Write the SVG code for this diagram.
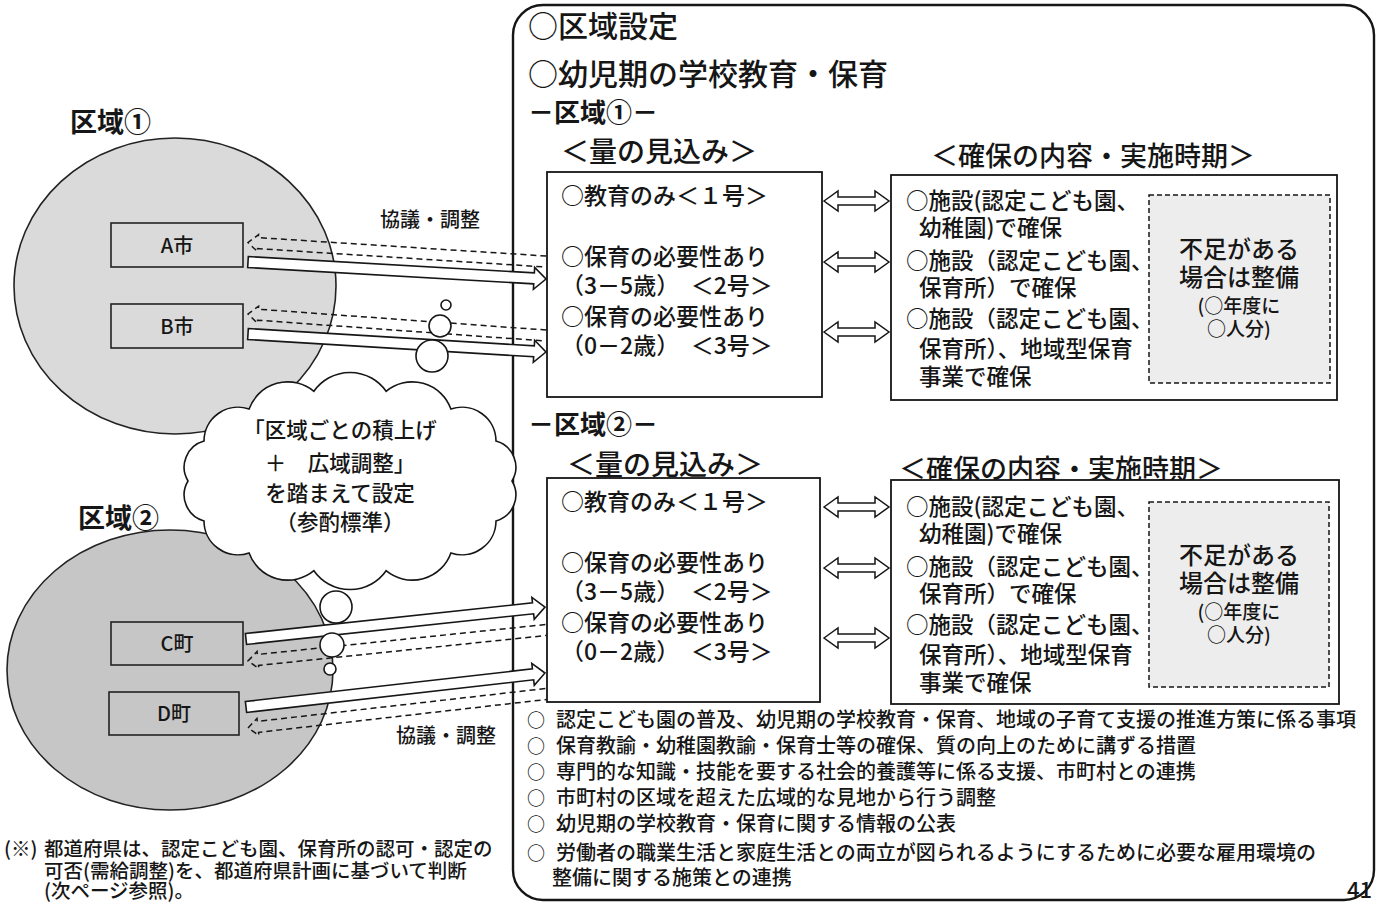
<svg xmlns="http://www.w3.org/2000/svg" width="1386" height="903" viewBox="0 0 1386 903">
<style>
text { font-family: "Noto Sans CJK JP", "Noto Sans", sans-serif; fill: #161616; font-weight: 500; }
.h30 { font-size: 30px; }
.h28 { font-size: 28px; }
.h27 { font-size: 27px; }
.h26b { font-size: 26px; font-weight: bold; }
.lbl { font-size: 27px; font-weight: bold; }
.b23 { font-size: 23px; }
.r22 { font-size: 22.5px; }
.n24 { font-size: 24px; text-anchor: middle; }
.n19 { font-size: 19px; text-anchor: middle; }
.city { font-size: 20px; text-anchor: middle; }
.kyo { font-size: 20px; }
.cl { font-size: 21.5px; text-anchor: middle; }
.li { font-size: 20px; }
.bu { font-size: 18px; }
.fn { font-size: 19.5px; }
.zone1 { fill: #dadada; stroke: #222; stroke-width: 1.6; }
.zone2 { fill: #c6c6c6; stroke: #222; stroke-width: 1.6; }
.cbox { fill: none; stroke: #222; stroke-width: 1.6; }
.box { fill: #fff; stroke: #161616; stroke-width: 1.8; }
.need { fill: #ededed; stroke: #161616; stroke-width: 1.5; stroke-dasharray: 5 3; }
.frame { fill: #fff; stroke: #161616; stroke-width: 2.4; }
.solid { fill: #fff; stroke: #161616; stroke-width: 1.6; stroke-linejoin: miter; }
.dash { fill: none; stroke: #161616; stroke-width: 1.5; stroke-dasharray: 6 4; }
.dbl { fill: #fff; stroke: #161616; stroke-width: 1.5; }
.bub { fill: #fff; stroke: #161616; stroke-width: 1.6; }
</style>
<defs>
<path id="dblarrow" class="dbl" d="M0,0 L14,-10 L14,-4 L51,-4 L51,-10 L65,0 L51,10 L51,4 L14,4 L14,10 Z"/>
</defs>

<rect x="0" y="0" width="1386" height="903" fill="#fff"/>

<!-- zones -->
<g id="zone1">
  <ellipse class="zone1" cx="175" cy="286" rx="161" ry="148"/>
  <text class="lbl" x="70" y="132">区域①</text>
</g>
<g id="zone2">
  <ellipse class="zone2" cx="170" cy="670" rx="163" ry="140"/>
  <text class="lbl" x="78" y="528">区域②</text>
</g>

<g id="cityA"><rect class="cbox" x="111" y="223" width="132" height="44"/><text class="city" x="177" y="253">A市</text></g>
<g id="cityB"><rect class="cbox" x="111" y="304" width="132" height="44"/><text class="city" x="177" y="334">B市</text></g>
<g id="townC"><rect class="cbox" x="111" y="622" width="132" height="43"/><text class="city" x="177" y="651">C町</text></g>
<g id="townD"><rect class="cbox" x="109" y="692" width="130" height="43"/><text class="city" x="174" y="721">D町</text></g>

<!-- main frame -->
<g id="frame">
  <rect class="frame" x="513" y="5" width="861" height="895" rx="30" ry="30"/>
  <text class="h30" x="528" y="37">○区域設定</text>
  <text class="h30" x="528" y="85">○幼児期の学校教育・保育</text>
</g>

<!-- region 1 -->
<g id="region1">
  <text class="h26b" x="528" y="122">－区域①－</text>
  <text class="h28" x="561" y="162">＜量の見込み＞</text>
  <text class="h27" x="931" y="166">＜確保の内容・実施時期＞</text>
</g>
<g id="demand1">
  <rect class="box" x="547" y="172" width="275" height="225"/>
  <text class="b23" x="561" y="204">○教育のみ＜１号＞</text>
  <text class="b23" x="561" y="265">○保育の必要性あり</text>
  <text class="b23" x="561" y="294">（3－5歳）　＜2号＞</text>
  <text class="b23" x="561" y="325">○保育の必要性あり</text>
  <text class="b23" x="561" y="354">（0－2歳）　＜3号＞</text>
</g>
<g id="supply1">
  <rect class="box" x="891" y="175" width="446" height="225"/>
  <text class="r22" x="906" y="209">○施設(認定こども園、</text>
  <text class="r22" x="919" y="236">幼稚園)で確保</text>
  <text class="r22" x="906" y="269">○施設（認定こども園、</text>
  <text class="r22" x="919" y="296">保育所）で確保</text>
  <text class="r22" x="906" y="327">○施設（認定こども園、</text>
  <text class="r22" x="919" y="357">保育所）、地域型保育</text>
  <text class="r22" x="919" y="385">事業で確保</text>
</g>
<g id="shortage1">
  <rect class="need" x="1149" y="195" width="181" height="188"/>
  <text class="n24" x="1239" y="258">不足がある</text>
  <text class="n24" x="1239" y="286">場合は整備</text>
  <text class="n19" x="1239" y="313">(○年度に</text>
  <text class="n19" x="1239" y="336">○人分)</text>
</g>

<!-- region 2 -->
<g id="region2">
  <text class="h26b" x="528" y="434">－区域②－</text>
  <text class="h28" x="567" y="475">＜量の見込み＞</text>
  <text class="h27" x="899" y="479">＜確保の内容・実施時期＞</text>
</g>
<g id="demand2">
  <rect class="box" x="547" y="478" width="273" height="224"/>
  <text class="b23" x="561" y="510">○教育のみ＜１号＞</text>
  <text class="b23" x="561" y="571">○保育の必要性あり</text>
  <text class="b23" x="561" y="600">（3－5歳）　＜2号＞</text>
  <text class="b23" x="561" y="631">○保育の必要性あり</text>
  <text class="b23" x="561" y="660">（0－2歳）　＜3号＞</text>
</g>
<g id="supply2">
  <rect class="box" x="891" y="480" width="448" height="224"/>
  <text class="r22" x="906" y="515">○施設(認定こども園、</text>
  <text class="r22" x="919" y="542">幼稚園)で確保</text>
  <text class="r22" x="906" y="575">○施設（認定こども園、</text>
  <text class="r22" x="919" y="602">保育所）で確保</text>
  <text class="r22" x="906" y="633">○施設（認定こども園、</text>
  <text class="r22" x="919" y="663">保育所）、地域型保育</text>
  <text class="r22" x="919" y="691">事業で確保</text>
</g>
<g id="shortage2">
  <rect class="need" x="1149" y="502" width="180" height="185"/>
  <text class="n24" x="1239" y="564">不足がある</text>
  <text class="n24" x="1239" y="592">場合は整備</text>
  <text class="n19" x="1239" y="619">(○年度に</text>
  <text class="n19" x="1239" y="642">○人分)</text>
</g>

<!-- connectors -->
<g id="connectors">
  <g transform="translate(248,242.5) rotate(3.65)"><path class="dash" d="M298.6,-5.5 H10 V-8.5 L0,0 L10,8.5 V5.5 H298.6"/></g>
  <g transform="translate(248,262) rotate(3.27)"><polygon class="solid" points="0,-5.5 286.5,-5.5 286.5,-11 298.5,0 286.5,11 286.5,5.5 0,5.5"/></g>
  <g transform="translate(248,314) rotate(4.13)"><path class="dash" d="M298.8,-5.5 H10 V-8.5 L0,0 L10,8.5 V5.5 H298.8"/></g>
  <g transform="translate(248,334) rotate(3.46)"><polygon class="solid" points="0,-5.5 286.5,-5.5 286.5,-11 298.5,0 286.5,11 286.5,5.5 0,5.5"/></g>
  <g transform="translate(246,639) rotate(-6.1)"><polygon class="solid" points="0,-5.5 288.7,-5.5 288.7,-11 300.7,0 288.7,11 288.7,5.5 0,5.5"/></g>
  <g transform="translate(248,661) rotate(-5.94)"><path class="dash" d="M299.6,-5.5 H10 V-8.5 L0,0 L10,8.5 V5.5 H299.6"/></g>
  <g transform="translate(246,707) rotate(-6.49)"><polygon class="solid" points="0,-5.5 288.9,-5.5 288.9,-11 300.9,0 288.9,11 288.9,5.5 0,5.5"/></g>
  <g transform="translate(248,728) rotate(-6.51)"><path class="dash" d="M299.9,-5.5 H10 V-8.5 L0,0 L10,8.5 V5.5 H299.9"/></g>
  <use href="#dblarrow" x="824" y="201"/>
  <use href="#dblarrow" x="824" y="262"/>
  <use href="#dblarrow" x="824" y="332"/>
  <use href="#dblarrow" x="824" y="507"/>
  <use href="#dblarrow" x="824" y="568"/>
  <use href="#dblarrow" x="824" y="638"/>
  <text class="kyo" x="380" y="227">協議・調整</text>
  <text class="kyo" x="396" y="743">協議・調整</text>
</g>

<!-- cloud -->
<g id="cloud">
  <circle class="bub" cx="446" cy="305" r="5"/>
  <circle class="bub" cx="440" cy="326" r="11"/>
  <circle class="bub" cx="432" cy="356" r="16"/>
  <circle class="bub" cx="336" cy="607" r="16"/>
  <circle class="bub" cx="332" cy="645" r="12"/>
  <circle class="bub" cx="330" cy="669" r="6"/>
  <path class="bub" d="M512,481 A27,27 0 0,1 496,520.9 A34,34 0 0,1 450.9,552.9 A41,41 0 0,1 386.1,570.7 A44,44 0 0,1 313.9,570.7 A41,41 0 0,1 249.1,552.9 A34,34 0 0,1 204,520.9 A27,27 0 0,1 188,481 A27,27 0 0,1 204,441.1 A34,34 0 0,1 249.1,409.1 A41,41 0 0,1 313.9,391.3 A44,44 0 0,1 386.1,391.3 A41,41 0 0,1 450.9,409.1 A34,34 0 0,1 496,441.1 A27,27 0 0,1 512,481 Z"/>
  <text class="cl" x="340" y="438">「区域ごとの積上げ</text>
  <text class="cl" x="340" y="471">＋　広域調整」</text>
  <text class="cl" x="340" y="501">を踏まえて設定</text>
  <text class="cl" x="340" y="530">（参酌標準）</text>
</g>

<!-- other items -->
<g id="items">
  <text class="bu" x="527" y="727">○</text><text class="li" x="556" y="727">認定こども園の普及、幼児期の学校教育・保育、地域の子育て支援の推進方策に係る事項</text>
  <text class="bu" x="527" y="753">○</text><text class="li" x="556" y="753">保育教諭・幼稚園教諭・保育士等の確保、質の向上のために講ずる措置</text>
  <text class="bu" x="527" y="779">○</text><text class="li" x="556" y="779">専門的な知識・技能を要する社会的養護等に係る支援、市町村との連携</text>
  <text class="bu" x="527" y="805">○</text><text class="li" x="556" y="805">市町村の区域を超えた広域的な見地から行う調整</text>
  <text class="bu" x="527" y="831">○</text><text class="li" x="556" y="831">幼児期の学校教育・保育に関する情報の公表</text>
  <text class="bu" x="527" y="860">○</text><text class="li" x="556" y="860">労働者の職業生活と家庭生活との両立が図られるようにするために必要な雇用環境の</text>
  <text class="li" x="552" y="885">整備に関する施策との連携</text>
  <text style="font-size:22px" x="1347" y="898">41</text>
</g>

<g id="footnote">
  <text class="fn" x="4" y="856">(※)<tspan x="44">都道府県は、認定こども園、保育所の認可・認定の</tspan></text>
  <text class="fn" x="44" y="878">可否(需給調整)を、都道府県計画に基づいて判断</text>
  <text class="fn" x="44" y="898">(次ページ参照)。</text>
</g>
</svg>
